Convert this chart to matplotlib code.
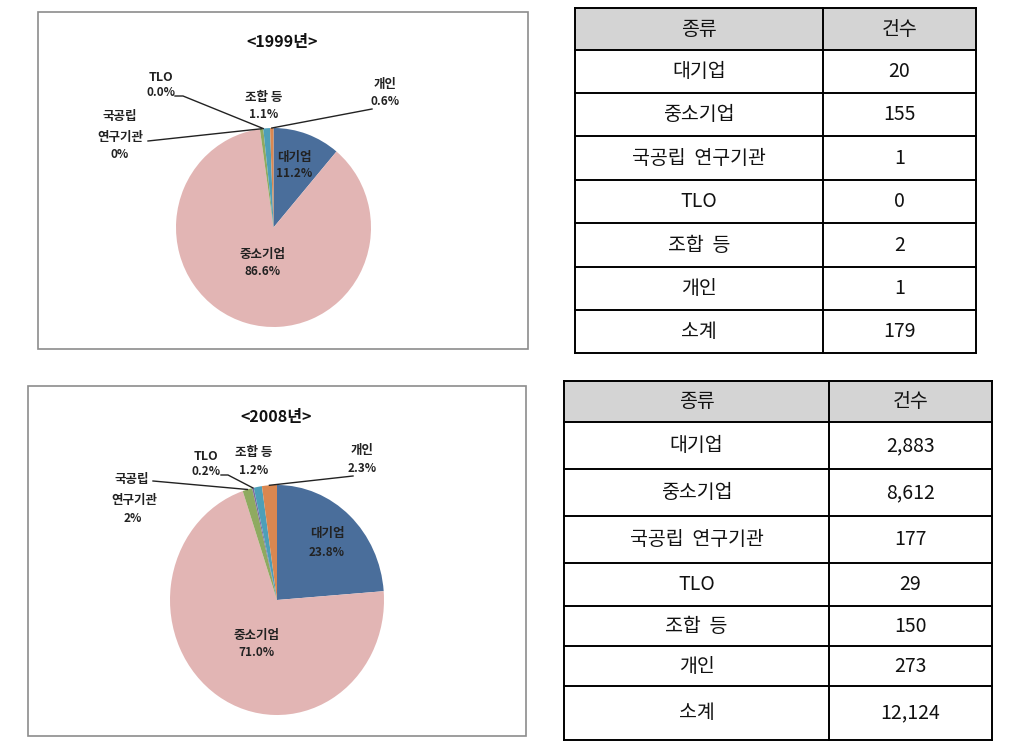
import numpy as np
import matplotlib
matplotlib.use('Agg')
import matplotlib.pyplot as plt

plt.rcParams['font.family'] = ['Noto Sans CJK KR', 'DejaVu Sans']

# ── DATA ──
categories = ['대기업', '중소기업', '국공립 연구기관', 'TLO', '조합 등', '개인']
counts_1999 = [20, 155, 1, 0, 2, 1]
counts_2008 = [2883, 8612, 177, 29, 150, 273]
years = ['1999', '2008']
# the 국공립 labels are shown as whole percents in the source charts
gov_pct_text = ['0%', '2%']
header = ['종류', '건수']
total_label = '소계'

slice_colors = ['#4A6E9B', '#E2B5B4', '#8FAA60', '#7B6BA0', '#4D9FB8', '#DA8750']

W, H = 1031, 748
fig = plt.figure(figsize=(W / 100, H / 100), dpi=100)
fig.patch.set_facecolor('white')

# overlay axes in pixel coordinates (y downwards)
ov = fig.add_axes([0, 0, 1, 1], zorder=5)
ov.set_xlim(0, W)
ov.set_ylim(H, 0)
ov.axis('off')
ov.patch.set_alpha(0)


def px_axes(x0, y0, w, h, **kw):
    return fig.add_axes([x0 / W, 1 - (y0 + h) / H, w / W, h / H], **kw)


# ── PIE CHARTS ──
pie_layout = [
    dict(frame=(38, 12, 490, 337), center=(273.5, 227.5), rx=97.5, ry=99.5,
         title_xy=(282, 42),
         labels={
             0: (294, 157, 173),
             1: (263, 254, 271),
         },
         outer={
             2: dict(lines=[(120, 116), (120, 137), (120, 154)],
                     leader=[(148, 141)]),
             3: dict(lines=[(161, 77), (161, 92)], leader=[(175, 96), (183, 96)]),
             4: dict(lines=[(264, 97), (264, 114)], leader=None),
             5: dict(lines=[(385, 84), (385, 101)], leader=[(372, 109)]),
         }),
    dict(frame=(28, 386, 498, 350), center=(277, 600), rx=107, ry=115,
         title_xy=(276, 417),
         labels={
             0: (327, 534, 552),
             1: (256, 635, 653),
         },
         outer={
             2: dict(lines=[(132, 479), (134, 500), (133, 518)],
                     leader=[(153, 481)]),
             3: dict(lines=[(206, 456), (206, 471)], leader=[(221, 475), (228, 475)]),
             4: dict(lines=[(254, 452), (254, 470)], leader=None),
             5: dict(lines=[(362, 450), (362, 468)], leader=[(353, 476)]),
         }),
]

for year, counts, gov_txt, lay in zip(years, [counts_1999, counts_2008],
                                      gov_pct_text, pie_layout):
    fx, fy, fw, fh = lay['frame']
    ov.add_patch(plt.Rectangle((fx, fy), fw, fh, fill=False,
                               edgecolor='#8C8C8C', linewidth=1.2))
    ov.text(lay['title_xy'][0], lay['title_xy'][1], f'<{year}년>',
            ha='center', va='center', fontsize=11.5, fontweight='bold',
            color='#111111')

    cx, cy = lay['center']
    rx, ry = lay['rx'], lay['ry']
    pa = px_axes(cx - rx, cy - ry, 2 * rx, 2 * ry)
    pa.pie(counts, colors=slice_colors, startangle=90, counterclock=False,
           radius=1, frame=True, wedgeprops=dict(linewidth=0))
    pa.set_aspect('auto')
    pa.set_xlim(-1, 1)
    pa.set_ylim(-1, 1)
    pa.axis('off')

    vals = np.array(counts, dtype=float)
    pct = vals / vals.sum() * 100
    cum = np.cumsum(pct) - pct / 2
    mid_ang = np.deg2rad(90 - cum * 3.6)

    for i, (x, y1, y2) in lay['labels'].items():
        ov.text(x, y1, categories[i], ha='center', va='center', fontsize=9,
                fontweight='bold', color='#222222')
        ov.text(x, y2, f'{pct[i]:.1f}%', ha='center', va='center',
                fontsize=8.5, fontweight='bold', color='#222222')

    for i, o in lay['outer'].items():
        if i == 2:
            texts = categories[i].split(' ') + [gov_txt]
        else:
            texts = [categories[i], f'{pct[i]:.1f}%']
        for k, ((tx, ty), s) in enumerate(zip(o['lines'], texts)):
            is_pct = s.endswith('%')
            ov.text(tx, ty, s, ha='center', va='center',
                    fontsize=8.5 if is_pct else 9,
                    fontweight='bold', color='#222222')
        if o['leader']:
            ex = cx + rx * np.cos(mid_ang[i])
            ey = cy - ry * np.sin(mid_ang[i])
            pts = o['leader'] + [(ex, ey)]
            ov.plot([p[0] for p in pts], [p[1] for p in pts],
                    color='#222222', linewidth=1.0)

# ── TABLES ──
table_layout = [
    dict(x=(575, 823, 976), y=[8, 50, 93, 136, 180, 223, 267, 310, 353]),
    dict(x=(564, 829, 992), y=[381, 422, 469, 516, 563, 606, 646, 686, 740]),
]


def fmt_count(v):
    return f'{v:,}'


for counts, lay in zip([counts_1999, counts_2008], table_layout):
    x0, xm, x1 = lay['x']
    ys = lay['y']
    rows = [header] + [[c, fmt_count(v)] for c, v in zip(categories, counts)]
    rows.append([total_label, fmt_count(sum(counts))])
    ov.add_patch(plt.Rectangle((x0, ys[0]), x1 - x0, ys[1] - ys[0],
                               facecolor='#D4D4D4', edgecolor='none'))
    for k, row in enumerate(rows):
        yc = (ys[k] + ys[k + 1]) / 2
        ov.text((x0 + xm) / 2, yc, row[0].replace(' ', '  '), ha='center',
                va='center', fontsize=14, color='#111111')
        ov.text((xm + x1) / 2, yc, row[1], ha='center', va='center',
                fontsize=14, color='#111111')
    for y in ys:
        ov.plot([x0, x1], [y, y], color='black', linewidth=1.4,
                solid_capstyle='projecting')
    for x in (x0, xm, x1):
        ov.plot([x, x], [ys[0], ys[-1]], color='black', linewidth=1.4,
                solid_capstyle='projecting')

fig.savefig('out.png', dpi=100)
